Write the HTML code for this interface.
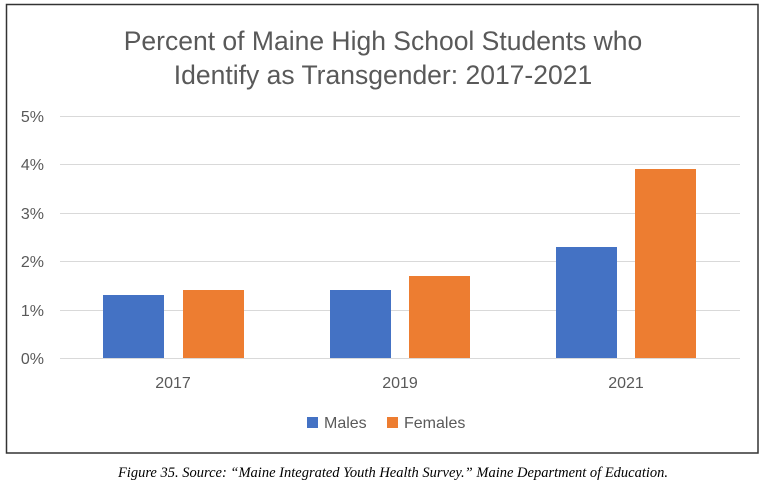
<!DOCTYPE html>
<html><head><style>
body{margin:0;width:767px;height:484px;background:#fff;overflow:hidden}
</style></head><body>
<svg width="767" height="484" xmlns="http://www.w3.org/2000/svg" font-family="Liberation Sans, sans-serif">
<rect x="6.5" y="4.5" width="751.5" height="448.5" fill="#fff" stroke="#333" stroke-width="1.5"/>
<text x="383" y="50" text-anchor="middle" font-size="26.5" fill="#595959">Percent of Maine High School Students who</text>
<text x="383" y="84" text-anchor="middle" font-size="26.5" fill="#595959">Identify as Transgender: 2017-2021</text>
<g stroke="#d9d9d9" stroke-width="1">
<line x1="60" y1="116.5" x2="740" y2="116.5"/>
<line x1="60" y1="164.5" x2="740" y2="164.5"/>
<line x1="60" y1="213.5" x2="740" y2="213.5"/>
<line x1="60" y1="261.5" x2="740" y2="261.5"/>
<line x1="60" y1="310.5" x2="740" y2="310.5"/>
<line x1="60" y1="358.5" x2="740" y2="358.5"/>
</g>
<g font-size="16" fill="#595959" text-anchor="end">
<text x="44" y="122">5%</text><text x="44" y="170">4%</text><text x="44" y="219">3%</text>
<text x="44" y="267">2%</text><text x="44" y="316">1%</text><text x="44" y="364">0%</text>
</g>
<g fill="#4472C4">
<rect x="103" y="295" width="61" height="63"/>
<rect x="330" y="290" width="61" height="68"/>
<rect x="556" y="247" width="61" height="111"/>
</g>
<g fill="#ED7D31">
<rect x="183" y="290" width="61" height="68"/>
<rect x="409" y="276" width="61" height="82"/>
<rect x="635" y="169" width="61" height="189"/>
</g>
<g font-size="16" fill="#595959" text-anchor="middle">
<text x="173" y="388">2017</text><text x="400" y="388">2019</text><text x="626" y="388">2021</text>
</g>
<rect x="307" y="417" width="11" height="11" fill="#4472C4"/>
<text x="324" y="428" font-size="16" fill="#595959">Males</text>
<rect x="387" y="417" width="11" height="11" fill="#ED7D31"/>
<text x="404" y="428" font-size="16" fill="#595959">Females</text>
<text x="393" y="477" text-anchor="middle" font-size="14.5" font-style="italic" font-family="Liberation Serif, serif" fill="#000">Figure 35. Source: “Maine Integrated Youth Health Survey.” Maine Department of Education.</text>
</svg>
</body></html>
